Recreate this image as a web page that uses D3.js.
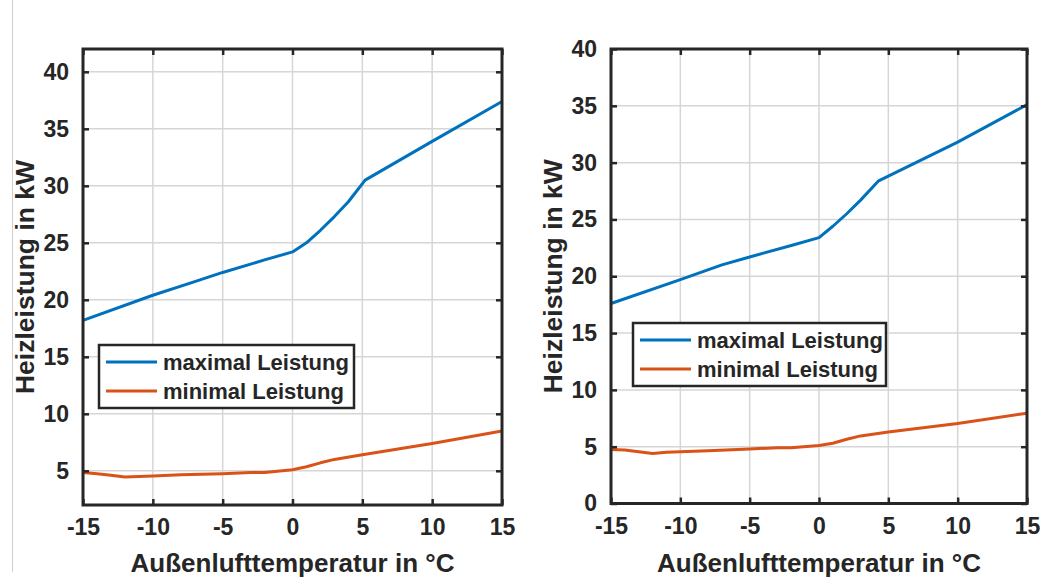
<!DOCTYPE html>
<html><head><meta charset="utf-8">
<script src="https://cdn.jsdelivr.net/npm/d3@7"></script>
<style>body{margin:0;background:#fff}svg{display:block}text{font-family:"Liberation Sans",Arial,sans-serif;font-weight:bold;fill:#262626}</style>
</head><body><svg id="c" width="1059" height="578"></svg>
<script>
const xTicks = [-15,-10,-5,0,5,10,15];
const yTicksLeft = [5,10,15,20,25,30,35,40];
const yTicksRight = [0,5,10,15,20,25,30,35,40];
const seriesNames = ["maximal Leistung","minimal Leistung"];
const colors = ["#0072BD","#D95319"];

const leftMaxT = [-15,-10,-7,-5,-2,0,1,2,3,4,5.2,10,15];
const leftMaxV = [18.2,20.4,21.6,22.4,23.5,24.2,25.0,26.1,27.3,28.6,30.5,33.9,37.4];
const leftMinT = [-15,-14,-13,-12,-11,-10,-8,-5,-3,-2,0,1,2,3,5,10,15];
const leftMinV = [4.85,4.75,4.6,4.45,4.5,4.55,4.65,4.75,4.85,4.85,5.1,5.35,5.7,6.0,6.4,7.4,8.5];

const rightMaxT = [-15,-10,-7,-5,-2,0,1,2,3,4.3,10,15];
const rightMaxV = [17.6,19.7,21.0,21.7,22.7,23.4,24.4,25.5,26.7,28.4,31.8,35.1];
const rightMinT = [-15,-14,-13,-12,-11,-10,-8,-5,-3,-2,0,1,2,3,5,10,15];
const rightMinV = [4.75,4.7,4.55,4.4,4.5,4.55,4.65,4.8,4.9,4.9,5.1,5.3,5.65,5.95,6.3,7.05,7.95];

const svg = d3.select("#c");
svg.append("line").attr("x1",12.5).attr("x2",12.5).attr("y1",0).attr("y2",572)
  .attr("stroke","#cfcfcf").attr("stroke-width",1);

function panel(o){
  const x = d3.scaleLinear().domain([-15,15]).range([o.left,o.right]);
  const y = d3.scaleLinear().domain(o.yDomain).range([o.bottom,o.top]);
  const g = svg.append("g");
  g.selectAll(".gx").data(xTicks).join("line")
    .attr("x1",d=>x(d)).attr("x2",d=>x(d)).attr("y1",o.top).attr("y2",o.bottom)
    .attr("stroke","#d6d6d6").attr("stroke-width",1.5);
  g.selectAll(".gy").data(o.yTicks).join("line")
    .attr("y1",d=>y(d)).attr("y2",d=>y(d)).attr("x1",o.left).attr("x2",o.right)
    .attr("stroke","#d6d6d6").attr("stroke-width",1.5);
  const line = d3.line().x(d=>x(d[0])).y(d=>y(d[1]));
  o.series.forEach((s,i)=>{
    g.append("path").datum(d3.zip(s[0],s[1])).attr("d",line)
      .attr("fill","none").attr("stroke",colors[i]).attr("stroke-width",3)
      .attr("stroke-linejoin","round");
  });
  const tl = 6;
  const ax = [
    [d3.axisBottom(x).tickValues(xTicks).tickSize(-tl).tickPadding(14), `translate(0,${o.bottom})`, true],
    [d3.axisTop(x).tickValues(xTicks).tickSize(-tl), `translate(0,${o.top})`, false],
    [d3.axisLeft(y).tickValues(o.yTicks).tickSize(-tl).tickPadding(14), `translate(${o.left},0)`, true],
    [d3.axisRight(y).tickValues(o.yTicks).tickSize(-tl), `translate(${o.right},0)`, false]
  ];
  ax.forEach(([a,t,lab])=>{
    const ag = g.append("g").attr("transform",t).call(a.tickFormat(d=>d<0?"-"+Math.abs(d):d));
    ag.select(".domain").remove();
    ag.selectAll(".tick line").attr("stroke","#262626").attr("stroke-width",2.5);
    if(!lab) ag.selectAll("text").remove();
    else ag.selectAll("text").attr("font-size",23).attr("fill","#262626")
      .style("font-family",'"Liberation Sans",Arial,sans-serif').style("font-weight","bold");
  });
  g.append("rect").attr("x",o.left).attr("y",o.top).attr("width",o.right-o.left).attr("height",o.bottom-o.top)
    .attr("fill","none").attr("stroke","#262626").attr("stroke-width",3);
  g.append("text").attr("x",(o.left+o.right)/2).attr("y",572).attr("text-anchor","middle")
    .attr("font-size",26).text("Außenlufttemperatur in °C");
  g.append("text").attr("transform",`translate(${o.left-49},${(o.top+o.bottom)/2}) rotate(-90)`)
    .attr("text-anchor","middle").attr("font-size",26.5).text("Heizleistung in kW");
  const L = o.legend;
  g.append("rect").attr("x",L.x).attr("y",L.y).attr("width",L.w).attr("height",L.h)
    .attr("fill","#fff").attr("stroke","#262626").attr("stroke-width",2.5);
  seriesNames.forEach((n,i)=>{
    const yy = L.y + 17 + i*29;
    g.append("line").attr("x1",L.x+7).attr("x2",L.x+58).attr("y1",yy).attr("y2",yy)
      .attr("stroke",colors[i]).attr("stroke-width",3);
    g.append("text").attr("x",L.x+64).attr("y",yy).attr("dy","0.36em").attr("font-size",22).text(n);
  });
}

panel({left:83,right:502,top:49,bottom:505,yDomain:[2,42],yTicks:yTicksLeft,
  series:[[leftMaxT,leftMaxV],[leftMinT,leftMinV]],
  legend:{x:99,y:345,w:255,h:63}});
panel({left:611,right:1027,top:49,bottom:503.5,yDomain:[0,40],yTicks:yTicksRight,
  series:[[rightMaxT,rightMaxV],[rightMinT,rightMinV]],
  legend:{x:633,y:323,w:253,h:63}});
</script></body></html>
